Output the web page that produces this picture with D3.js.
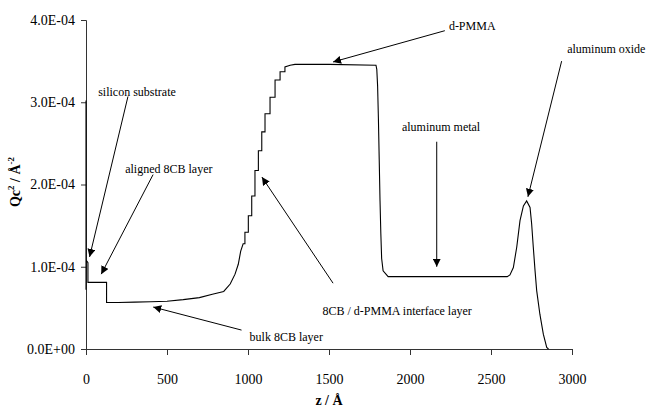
<!DOCTYPE html>
<html>
<head>
<meta charset="utf-8">
<script src="https://cdn.jsdelivr.net/npm/d3@7"></script>
<style>
  body { margin: 0; background: #fff; }
</style>
</head>
<body>
<svg id="chart" width="646" height="408"></svg>
<script>
serif = '"Liberation Serif", "Times New Roman", "DejaVu Serif", serif';

// depth z (Å) and scattering length density Qc² (units of 1E-04 Å^-2)
zValues = [0, 0, 1, 12, 12, 127, 127, 200, 300, 400, 500, 600, 700, 780, 850, 890, 920, 940, 955, 970,
           981, 981, 1002, 1002, 1023, 1023, 1043, 1043, 1064, 1064, 1085, 1085, 1105, 1105,
           1136, 1136, 1167, 1167, 1198, 1198, 1228, 1228, 1260, 1290,
           1500, 1790, 1795, 1800, 1805, 1810, 1815, 1820, 1825, 1834, 1865,
           2200, 2600, 2617, 2638, 2659, 2679, 2700, 2720, 2741, 2751, 2761, 2772, 2782,
           2802, 2823, 2844, 2855];
qc2Values = [3.02, 0.72, 1.08, 1.05, 0.81, 0.81, 0.565, 0.565, 0.57, 0.575, 0.58, 0.60, 0.625, 0.665, 0.70, 0.79, 0.91, 1.03, 1.19, 1.28,
             1.28, 1.42, 1.42, 1.62, 1.62, 1.86, 1.86, 2.17, 2.17, 2.41, 2.41, 2.64, 2.64, 2.86,
             2.86, 3.06, 3.06, 3.27, 3.27, 3.37, 3.37, 3.43, 3.45, 3.46,
             3.46, 3.45, 3.40, 3.20, 2.80, 2.30, 1.80, 1.40, 1.10, 0.95, 0.88,
             0.88, 0.88, 0.90, 0.99, 1.24, 1.56, 1.74, 1.80, 1.72, 1.52, 1.24, 0.95, 0.71,
             0.42, 0.18, 0.02, 0.0];

xTicks = [0, 500, 1000, 1500, 2000, 2500, 3000];
yTicks = [0, 1, 2, 3, 4];
yTickLabels = ['0.0E+00', '1.0E-04', '2.0E-04', '3.0E-04', '4.0E-04'];

// annotations: text, text anchor point, arrow start, arrow tip (in data units)
labelText = ['silicon substrate', 'aligned 8CB layer', 'bulk 8CB layer', '8CB / d-PMMA interface layer',
             'd-PMMA', 'aluminum metal', 'aluminum oxide'];
labelZ   = [75, 242, 1010, 1460, 2240, 1950, 2970];
labelQ   = [3.07, 2.14, 0.10, 0.41, 3.88, 2.65, 3.60];
arrowZ0  = [259, 414, 960, 1525, 2215, 2165, 2936];
arrowQ0  = [3.07, 2.12, 0.23, 0.80, 3.87, 2.52, 3.50];
arrowZ1  = [22, 94, 415, 1086, 1525, 2165, 2728];
arrowQ1  = [1.12, 0.91, 0.51, 2.09, 3.49, 1.0, 1.85];

svg = d3.select('#chart');

xScale = d3.scaleLinear().domain([0, 3000]).range([86, 572]);
yScale = d3.scaleLinear().domain([0, 4]).range([349, 20]);

xAxis = d3.axisBottom(xScale).tickValues(xTicks).tickSize(6).tickPadding(19).tickFormat(d3.format('d'));
yAxis = d3.axisLeft(yScale).tickValues(yTicks).tickSize(5).tickPadding(6)
          .tickFormat((d, i) => yTickLabels[i]);

gx = svg.append('g').attr('transform', 'translate(0,349)').call(xAxis);
gy = svg.append('g').attr('transform', 'translate(86,0)').call(yAxis);
[gx, gy].forEach(g => {
    g.attr('font-family', serif).attr('font-size', 14);
    g.selectAll('path').attr('stroke', '#333').attr('stroke-width', 1);
    g.selectAll('line').attr('stroke', '#333');
    g.selectAll('text').attr('fill', '#000');
});

// profile
points = zValues.map((z, i) => [z, qc2Values[i]]);
line = d3.line()
    .x(d => xScale(d[0]))
    .y(d => yScale(d[1]));

svg.append('path')
    .datum(points)
    .attr('d', line)
    .attr('fill', 'none')
    .attr('stroke', '#000')
    .attr('stroke-width', 1.1);

// arrows
defs = svg.append('defs');
defs.append('marker')
    .attr('id', 'head')
    .attr('viewBox', '0 0 10 10')
    .attr('refX', 10).attr('refY', 5)
    .attr('markerWidth', 8).attr('markerHeight', 8)
    .attr('markerUnits', 'userSpaceOnUse')
    .attr('orient', 'auto')
    .append('path')
    .attr('d', 'M0,0 L10,5 L0,10 Z')
    .attr('fill', '#000');

labelText.forEach((t, i) => {
    svg.append('line')
        .attr('x1', xScale(arrowZ0[i])).attr('y1', yScale(arrowQ0[i]))
        .attr('x2', xScale(arrowZ1[i])).attr('y2', yScale(arrowQ1[i]))
        .attr('stroke', '#000')
        .attr('stroke-width', 1)
        .attr('marker-end', 'url(#head)');
    svg.append('text')
        .attr('x', xScale(labelZ[i]))
        .attr('y', yScale(labelQ[i]))
        .attr('font-family', serif)
        .attr('font-size', 12)
        .text(t);
});

// axis titles
svg.append('text')
    .attr('x', xScale(1500)).attr('y', 405)
    .attr('text-anchor', 'middle')
    .attr('font-family', serif)
    .attr('font-size', 14).attr('font-weight', 'bold')
    .text('z / Å');

yt = svg.append('text')
    .attr('transform', 'translate(20,182) rotate(-90)')
    .attr('text-anchor', 'middle')
    .attr('font-family', serif)
    .attr('font-size', 14).attr('font-weight', 'bold');
yt.append('tspan').text('Qc');
yt.append('tspan').attr('dy', -6).attr('font-size', 9).text('2');
yt.append('tspan').attr('dy', 6).text(' / Å');
yt.append('tspan').attr('dy', -6).attr('font-size', 9).text('-2');
</script>
</body>
</html>
